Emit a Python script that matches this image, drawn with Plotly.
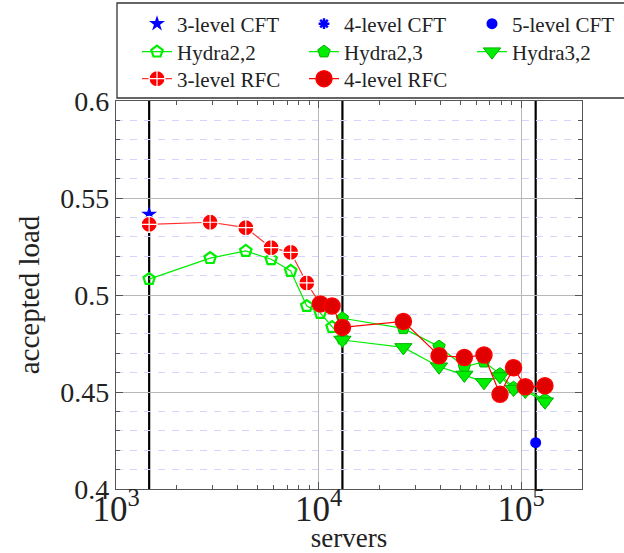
import plotly.graph_objects as go

# Fat-tree (CFT) reference sizes and their accepted load
cft3_x = [1458]
cft3_y = [0.5416]
cft4_x = [13122]
cft4_y = [0.481]
cft5_x = [118098]
cft5_y = [0.4239]

# Hydra topologies
hydra22_x = [1458, 2916, 4374, 5832, 7290, 8748, 10206, 11664, 13122]
hydra22_y = [0.5082, 0.5190, 0.5227, 0.5184, 0.5124, 0.4943, 0.4907, 0.4835, 0.4775]

hydra23_x = [13122, 26244, 39366, 52488, 65610, 78732, 91854, 104976, 131220]
hydra23_y = [0.4880, 0.4828, 0.4734, 0.4630, 0.4656, 0.4592, 0.4522, 0.4512, 0.4460]

hydra32_x = [13122, 26244, 39366, 52488, 65610, 78732, 91854, 104976, 131220]
hydra32_y = [0.4768, 0.4730, 0.4630, 0.4588, 0.4550, 0.4580, 0.4515, 0.4505, 0.4450]

# RFC topologies
rfc3_x = [1458, 2916, 4374, 5832, 7290, 8748, 10206]
rfc3_y = [0.5364, 0.5375, 0.5347, 0.5244, 0.5220, 0.5062, 0.4954]

rfc4_x = [10206, 11664, 13122, 26244, 39366, 52488, 65610, 78732, 91854, 104976, 131220]
rfc4_y = [0.4954, 0.4943, 0.4833, 0.4864, 0.4687, 0.4678, 0.4691, 0.4488, 0.4625, 0.4527, 0.4532]

BLUE = "#0000ff"
GREEN = "#00ee00"
DKGREEN = "#00b000"
RED = "#ff0000"
FONT = "Liberation Serif"

W, H = 624, 553
ML, MR, MT, MB = 116, 42, 101, 64
PW, PH = W - ML - MR, H - MT - MB


def px_to_paper_x(px):
    return (px - ML) / PW


def px_to_paper_y(py):
    return (H - MB - py) / PH


# Legend grid: three columns, three rows; each entry gets its own legend box
COLS = [137, 304, 472]
ROWS = [24, 52, 79]
slots = {
    "legend": (0, 0), "legend2": (1, 0), "legend3": (2, 0),
    "legend4": (0, 1), "legend5": (1, 1), "legend6": (2, 1),
    "legend7": (0, 2), "legend8": (1, 2),
}

fig = go.Figure()

fig.add_trace(go.Scatter(x=cft3_x, y=cft3_y, mode="markers", name="3-level CFT",
                         legend="legend", showlegend=True,
                         marker=dict(symbol="star", size=12, color=BLUE, line=dict(width=0))))
fig.add_trace(go.Scatter(x=cft4_x, y=cft4_y, mode="markers", name="4-level CFT",
                         legend="legend2",
                         marker=dict(symbol="asterisk-open", size=9, color=BLUE,
                                     line=dict(width=2.5, color=BLUE))))
fig.add_trace(go.Scatter(x=cft5_x, y=cft5_y, mode="markers", name="5-level CFT",
                         legend="legend3",
                         marker=dict(symbol="circle", size=11, color=BLUE, line=dict(width=0))))

fig.add_trace(go.Scatter(x=hydra22_x, y=hydra22_y, mode="lines+markers", name="Hydra2,2",
                         legend="legend4",
                         line=dict(color=GREEN, width=1.2),
                         marker=dict(symbol="pentagon-open", size=12, color=GREEN,
                                     line=dict(width=2.2, color=GREEN))))
fig.add_trace(go.Scatter(x=hydra23_x, y=hydra23_y, mode="lines+markers", name="Hydra2,3",
                         legend="legend5",
                         line=dict(color=GREEN, width=1.2),
                         marker=dict(symbol="pentagon", size=13, color=GREEN,
                                     line=dict(width=1, color=DKGREEN))))
fig.add_trace(go.Scatter(x=hydra32_x, y=hydra32_y, mode="lines+markers", name="Hydra3,2",
                         legend="legend6",
                         line=dict(color=GREEN, width=1.2),
                         marker=dict(symbol="triangle-down", size=15, color=GREEN,
                                     line=dict(width=1, color=DKGREEN))))

fig.add_trace(go.Scatter(x=rfc3_x, y=rfc3_y, mode="lines+markers", name="3-level RFC",
                         legend="legend7",
                         line=dict(color="#ff3030", width=1.2),
                         marker=dict(symbol="circle-cross", size=16, color=RED,
                                     line=dict(width=1.2, color="white"))))
fig.add_trace(go.Scatter(x=rfc4_x, y=rfc4_y, mode="lines+markers", name="4-level RFC",
                         legend="legend8",
                         line=dict(color=RED, width=1.2),
                         marker=dict(symbol="circle", size=16, color="#e00000",
                                     line=dict(width=1.5, color=RED))))

# Thick vertical markers at the fat-tree sizes
for xs in (cft3_x, cft4_x, cft5_x):
    fig.add_shape(type="line", xref="x", yref="paper", x0=xs[0], x1=xs[0], y0=0, y1=1,
                  line=dict(color="black", width=2.2), layer="below")

# Frame around the legend block
fig.add_shape(type="rect", xref="paper", yref="paper",
              x0=px_to_paper_x(117), x1=px_to_paper_x(640),
              y0=px_to_paper_y(98), y1=px_to_paper_y(3),
              line=dict(color="#333333", width=1.3), fillcolor="rgba(0,0,0,0)")

legends = {}
for key, (c, r) in slots.items():
    legends[key] = dict(orientation="v", xanchor="left", yanchor="middle",
                        x=px_to_paper_x(COLS[c]), y=px_to_paper_y(ROWS[r]),
                        bgcolor="rgba(0,0,0,0)", borderwidth=0,
                        font=dict(family=FONT, size=21, color="#222"))

axis_font = dict(family=FONT, size=27, color="#222")
AXC = "#555555"

fig.update_layout(
    width=W, height=H,
    showlegend=True,
    margin=dict(l=ML, r=MR, t=MT, b=MB, autoexpand=False),
    plot_bgcolor="white", paper_bgcolor="white",
    font=dict(family=FONT, size=27, color="#222"),
    xaxis=dict(
        type="log", range=[3, 5.30103], dtick=1, exponentformat="power",
        showgrid=True, gridcolor="#b8b8b8", gridwidth=1,
        ticks="inside", ticklen=7, tickcolor=AXC, tickwidth=1,
        minor=dict(dtick="D1", ticks="inside", ticklen=4, tickcolor=AXC, showgrid=False),
        showline=True, linecolor=AXC, linewidth=1.3, mirror="ticks",
        tickfont=dict(family=FONT, size=28, color="#222"), zeroline=False,
        ticklabelstandoff=-10,
        title=dict(text="servers", font=axis_font, standoff=7),
    ),
    yaxis=dict(
        range=[0.4, 0.6], dtick=0.05, tick0=0.4,
        showgrid=True, gridcolor="#b8b8b8", gridwidth=1,
        ticks="inside", ticklen=7, tickcolor=AXC, tickwidth=1,
        minor=dict(dtick=0.01, ticks="inside", ticklen=4, tickcolor=AXC,
                   showgrid=True, gridcolor="#d4d4ff", griddash="7px,7px", gridwidth=1),
        showline=True, linecolor=AXC, linewidth=1.3, mirror="ticks",
        tickfont=dict(family=FONT, size=28, color="#222"), zeroline=False,
        title=dict(text="accepted load", font=dict(family=FONT, size=29, color="#222"),
                   standoff=12),
    ),
    **legends,
)

fig.write_html("out.html")
